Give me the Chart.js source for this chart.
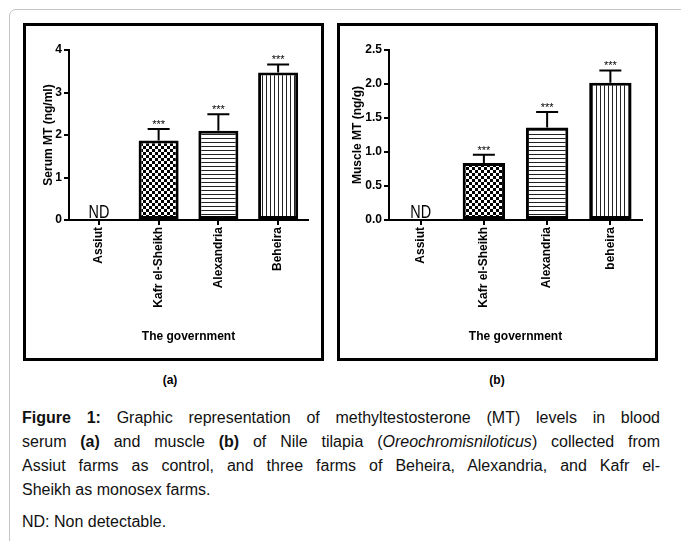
<!DOCTYPE html>
<html>
<head>
<meta charset="utf-8">
<script src="https://cdn.jsdelivr.net/npm/chart.js@4.4.1/dist/chart.umd.min.js"></script>
<style>
  body { margin: 0; background: #fff; font-family: "Liberation Sans", Arial, sans-serif; }
  #page { position: relative; width: 681px; height: 541px; overflow: hidden; }
  #frame { position: absolute; left: 9px; top: 9px; width: 700px; height: 560px;
           border: 1px solid #c4c4c4; border-radius: 7px; }
  .panel { position: absolute; top: 23px; height: 338px; box-sizing: border-box;
           border: 3px solid #000; background: #fff; }
  .panel canvas { position: absolute; left: 0; top: 0; }
  .tag { position: absolute; top: 373px; font-size: 12px; font-weight: bold; transform: translateX(-50%); }
  #caption { position: absolute; left: 22px; top: 406px; width: 638px; font-size: 16px; line-height: 24px; color: #111; }
  #caption .ln { text-align: justify; text-align-last: justify; white-space: nowrap; }
  #caption .last { text-align: left; text-align-last: left; }
  #note { position: absolute; left: 22px; top: 510px; font-size: 16px; line-height: 24px; color: #111; }
</style>
</head>
<body>
<div id="page">
  <div id="frame"></div>
  <div class="panel" style="left:23px; width:301px;"><canvas id="serumChart" width="295" height="332"></canvas></div>
  <div class="panel" style="left:337px; width:321px;"><canvas id="muscleChart" width="315" height="332"></canvas></div>
  <div class="tag" style="left:170px;">(a)</div>
  <div class="tag" style="left:497px;">(b)</div>
  <div id="caption">
    <div class="ln"><b>Figure 1:</b> Graphic representation of methyltestosterone (MT) levels in blood</div>
    <div class="ln">serum <b>(a)</b> and muscle <b>(b)</b> of Nile tilapia (<i>Oreochromisniloticus</i>) collected from</div>
    <div class="ln">Assiut farms as control, and three farms of Beheira, Alexandria, and Kafr el-</div>
    <div class="ln last">Sheikh as monosex farms.</div>
  </div>
  <div id="note">ND: Non detectable.</div>
</div>
<script>
// data (null = not detectable)
const serumLabels = ['Assiut', 'Kafr el-Sheikh', 'Alexandria', 'Beheira'];
const serumMean = [null, 1.87, 2.10, 3.47];
const serumSd = [null, 0.27, 0.39, 0.19];
const serumTicks = [0, 1, 2, 3, 4];

const muscleLabels = ['Assiut', 'Kafr el-Sheikh', 'Alexandria', 'beheira'];
const muscleMean = [null, 0.84, 1.36, 2.02];
const muscleSd = [null, 0.12, 0.23, 0.18];
const muscleTicks = [0, 0.5, 1.0, 1.5, 2.0, 2.5];

const signif = ['', '***', '***', '***'];

const FONT = '"Liberation Sans", Arial, sans-serif';
Chart.defaults.font.family = FONT;
Chart.defaults.color = '#000';

// hatch fills like the GraphPad bars
function makePattern(kind) {
  const c = document.createElement('canvas');
  const g = c.getContext('2d');
  c.width = kind === 'checker' ? 6 : 4;
  c.height = c.width;
  g.fillStyle = '#fff';
  g.fillRect(0, 0, c.width, c.height);
  g.fillStyle = '#000';
  if (kind === 'checker') {
    g.fillRect(3, 0, 3, 3);
    g.fillRect(0, 3, 3, 3);
  } else if (kind === 'hlines') {
    g.fillStyle = '#222';
    g.fillRect(0, 0, 4, 1);
  } else {
    g.fillStyle = '#222';
    g.fillRect(0, 0, 1, 4);
  }
  return g.createPattern(c, 'repeat');
}
const fills = ['#fff', makePattern('checker'), makePattern('hlines'), makePattern('vlines')];

// error bars, stars and ND text
const errorBars = {
  id: 'errorBars',
  afterDatasetsDraw(chart, args, opts) {
    const { ctx, scales: { x, y } } = chart;
    const values = chart.data.datasets[0].data;
    ctx.save();
    ctx.fillStyle = '#000';
    ctx.strokeStyle = '#000';
    values.forEach((v, i) => {
      const cx = x.getPixelForValue(i);
      if (v === null) {
        ctx.save();
        ctx.translate(cx, y.getPixelForValue(0) - 2);
        ctx.scale(0.8, 1);
        ctx.font = '18px ' + FONT;
        ctx.textAlign = 'center';
        ctx.textBaseline = 'alphabetic';
        ctx.fillText('ND', 0, 0);
        ctx.restore();
        return;
      }
      const top = y.getPixelForValue(v);
      const hi = y.getPixelForValue(v + opts.sd[i]);
      ctx.lineWidth = 2;
      ctx.beginPath();
      ctx.moveTo(cx, top);
      ctx.lineTo(cx, hi);
      ctx.moveTo(cx - 11, hi);
      ctx.lineTo(cx + 11, hi);
      ctx.stroke();
      ctx.font = '11px ' + FONT;
      ctx.textAlign = 'center';
      ctx.textBaseline = 'alphabetic';
      ctx.fillText(signif[i], cx, hi - 1);
    });
    ctx.restore();
  }
};

function buildChart(id, labels, mean, sd, ticks, yTitle, yWidth, yTitlePad, fmt) {
  const yMax = ticks[ticks.length - 1];
  return new Chart(document.getElementById(id), {
    type: 'bar',
    data: {
      labels: labels,
      datasets: [{
        data: mean,
        backgroundColor: fills,
        borderColor: '#000',
        borderWidth: 3,
        borderSkipped: false,
        barPercentage: 0.67,
        categoryPercentage: 1
      }]
    },
    plugins: [errorBars],
    options: {
      responsive: false,
      animation: false,
      layout: { padding: { top: 24, right: 13, left: 0, bottom: 0 } },
      plugins: {
        legend: { display: false },
        tooltip: { enabled: false },
        errorBars: { sd: sd }
      },
      scales: {
        x: {
          afterFit: s => { s.height = 138; },
          grid: { display: true, drawOnChartArea: false, offset: false, tickLength: 5, color: '#000', lineWidth: 2 },
          border: { display: true, color: '#000', width: 2 },
          ticks: { minRotation: 90, maxRotation: 90, padding: 2, font: { size: 12, weight: 'bold' } },
          title: { display: true, text: 'The government', font: { size: 12, weight: 'bold' }, padding: { top: 0, bottom: 14 } }
        },
        y: {
          min: 0,
          max: yMax,
          afterFit: s => { s.width = yWidth; },
          afterBuildTicks: s => { s.ticks = ticks.map(v => ({ value: v })); },
          grid: { display: true, drawOnChartArea: false, tickLength: 5, color: '#000', lineWidth: 2 },
          border: { display: true, color: '#000', width: 2 },
          ticks: { padding: 2, font: { size: 12, weight: 'bold' }, callback: v => fmt(v) },
          title: { display: true, text: yTitle, font: { size: 12, weight: 'bold' }, padding: { top: yTitlePad, bottom: 0 } }
        }
      }
    }
  });
}

buildChart('serumChart', serumLabels, serumMean, serumSd, serumTicks, 'Serum MT (ng/ml)', 43, 15, v => String(v));
buildChart('muscleChart', muscleLabels, muscleMean, muscleSd, muscleTicks, 'Muscle MT (ng/g)', 49, 10, v => v.toFixed(1));
</script>
</body>
</html>
